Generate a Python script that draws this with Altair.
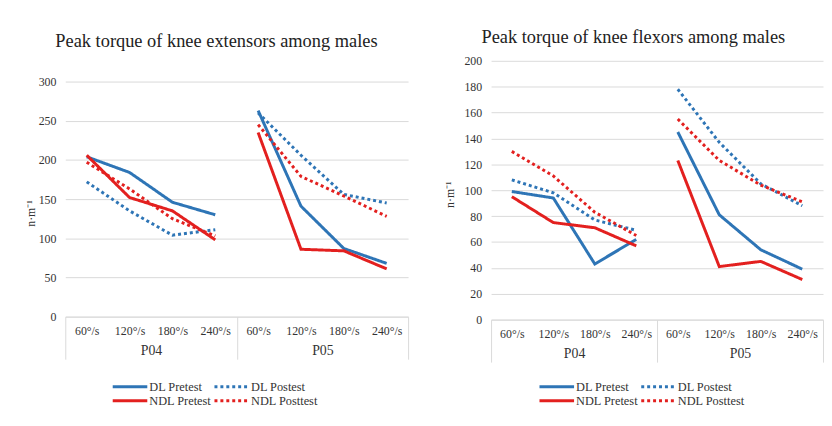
import altair as alt
import pandas as pd

speeds = ["60°/s", "120°/s", "180°/s", "240°/s"]
participants = ["P04", "P05"]
series_names = ["DL Pretest", "DL Postest", "NDL Pretest", "NDL Posttest"]

# Knee extensors (P04 x4, P05 x4)
ext_dl_pre = [204, 184, 146, 130, 263, 141, 87, 68]
ext_dl_post = [172, 135, 104, 111, 260, 206, 156, 145]
ext_ndl_pre = [206, 152, 135, 98, 235, 86, 84, 61]
ext_ndl_post = [197, 163, 125, 103, 245, 179, 154, 128]

# Knee flexors
flex_dl_pre = [99, 94, 43, 62, 145, 81, 54, 39]
flex_dl_post = [108, 98, 77, 69, 178, 137, 105, 88]
flex_ndl_pre = [95, 75, 71, 57, 123, 41, 45, 31]
flex_ndl_post = [130, 111, 83, 65, 155, 123, 104, 91]

colors = ["#2E75B6", "#2E75B6", "#E3201F", "#E3201F"]
dashes = [[1, 0], [3, 3], [1, 0], [3, 3]]

SERIF = "Liberation Serif"
TXT = "#333333"
GRID = "#d9d9d9"
Y_TITLE = "n·m⁻¹"

keys = [p + "|" + s for p in participants for s in speeds]


def make_df(vals):
    rows = []
    for s, v in zip(series_names, vals):
        for i, val in enumerate(v):
            p = participants[i // 4]
            sp = speeds[i % 4]
            rows.append({"series": s, "participant": p, "speed": sp,
                         "key": p + "|" + sp, "value": val})
    return pd.DataFrame(rows)


def panel(df, title, ymax, ystep, w, h, ytop, toff, ytp, lx, ly, ty):
    legend = alt.Legend(title=None, orient="none", legendX=lx, legendY=ly,
                        direction="horizontal", columns=2,
                        symbolType="M-3.5,0H3.5",
                        symbolSize=100, symbolStrokeWidth=3, labelFont=SERIF,
                        labelFontSize=12.5, labelColor=TXT, columnPadding=-3,
                        rowPadding=1, labelOffset=13)
    lines = alt.Chart(df).mark_line(strokeWidth=3).encode(
        x=alt.X("key:O", sort=keys,
                scale=alt.Scale(domain=keys, padding=0.5),
                axis=alt.Axis(title=None, labelExpr="split(datum.label, '|')[1]",
                              ticks=False, domain=True, domainColor=GRID,
                              labelPadding=9, labelAngle=0, labelOverlap=False,
                              labelFont=SERIF, labelFontSize=12, labelColor=TXT)),
        y=alt.Y("value:Q", scale=alt.Scale(domain=[0, ymax], nice=False, range=[h, ytop]),
                axis=alt.Axis(values=list(range(0, ymax + 1, ystep)), grid=True,
                              gridColor=GRID, domain=False, ticks=False,
                              labelPadding=9.5, labelFont=SERIF, labelFontSize=12,
                              labelColor=TXT, title=Y_TITLE, titleFont=SERIF,
                              titleFontSize=12, titleFontWeight="normal",
                              titleColor=TXT, titlePadding=ytp, titleY=ty)),
        color=alt.Color("series:N", scale=alt.Scale(domain=series_names, range=colors),
                        legend=legend),
        strokeDash=alt.StrokeDash("series:N",
                                  scale=alt.Scale(domain=series_names, range=dashes),
                                  legend=legend),
        detail="participant:N",
    )
    pdf = pd.DataFrame({"participant": participants})
    groups = alt.Chart(pdf).mark_point(opacity=0).encode(
        x=alt.X("participant:N", sort=participants,
                scale=alt.Scale(type="band", paddingInner=0, paddingOuter=0),
                axis=alt.Axis(orient="bottom", title=None, tickBand="extent",
                              tickSize=43, tickColor=GRID, domain=False,
                              labelPadding=-16, labelAngle=0, labelFont=SERIF,
                              labelFontSize=14, labelColor=TXT)),
    )
    return alt.layer(lines, groups).resolve_scale(x="independent").properties(
        width=w, height=h,
        title=alt.TitleParams(title, font=SERIF, fontSize=18.6, fontWeight="normal",
                              color="#222222", anchor="middle", frame="bounds",
                              offset=toff),
    )


left = panel(make_df([ext_dl_pre, ext_dl_post, ext_ndl_pre, ext_ndl_post]),
             "Peak torque of knee extensors among males", 300, 50, 347, 259, 21,
             9.9, 1, 59, 323.5, 154)
right = panel(make_df([flex_dl_pre, flex_dl_post, flex_ndl_pre, flex_ndl_post]),
              "Peak torque of knee flexors among males", 200, 20, 336, 262, 0,
              8.7, 8, 60, 323.5, 135)

chart = alt.concat(left, right, columns=2, spacing=34).resolve_scale(
    color="independent", strokeDash="independent"
).resolve_legend(color="independent", strokeDash="independent").properties(
    padding={"left": 16, "top": 17, "right": 0, "bottom": -1},
    background="white",
).configure_view(stroke=None)

chart.save("out.html", embed_options={"renderer": "svg", "actions": False})
